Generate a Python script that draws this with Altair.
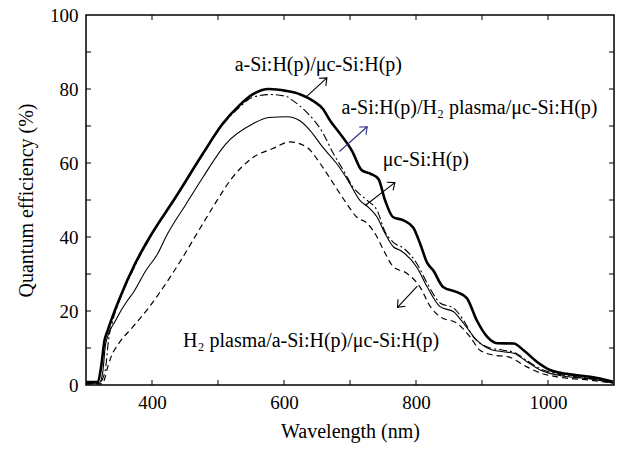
import math
import altair as alt
import pandas as pd

# ---------------- data ----------------
# a-Si:H(p)/μc-Si:H(p)  (thick solid)
wl_a = [300, 318, 323, 328, 333, 340, 350, 375, 396, 436, 477, 507, 532, 553, 577, 603, 624, 644, 659,
        670, 685, 703, 718, 731, 743, 753, 765, 781, 796, 806, 817, 826, 841, 862, 877, 892, 908, 923,
        948, 963, 983, 1004, 1029, 1064, 1099]
qe_a = [0.8, 0.8, 5, 12, 14.8, 18.4, 23, 33, 39.8, 50.8, 62.5, 70.6, 75.5, 78.6, 80, 79.5, 78.6, 76.8, 74.6,
        71.4, 67.9, 63.3, 58, 57.1, 55.7, 50, 45.4, 44.5, 42.5, 38.3, 33, 31, 26.5, 25.1, 23.5, 17.5, 13, 11.3,
        11.2, 9.4, 6.3, 4, 3, 2.2, 0.9]

# a-Si:H(p)/H2 plasma/μc-Si:H(p)  (dash-dot)
wl_b = [300, 320, 326, 330, 334, 340, 350, 375, 396, 436, 477, 507, 532, 553, 580, 603, 614, 635, 657,
        675, 690, 705, 726, 741, 753, 766, 781, 801, 817, 837, 857, 872, 887, 908, 932, 948, 968, 989,
        1014, 1064, 1099]
qe_b = [0.5, 0.5, 2, 5, 12, 17, 22.5, 32.5, 39.5, 50.6, 62.3, 70.3, 75, 77.8, 78.5, 78, 76.8, 73.6, 68.7,
        62.5, 58, 53.4, 49.9, 47.2, 41.5, 38.5, 37, 32.9, 27.5, 22.1, 20.8, 17.5, 13, 10.3, 9.4, 8.9, 6.6, 4.3,
        3, 1.8, 0.6]

# μc-Si:H(p)  (thin solid)
wl_c = [300, 320, 325, 330, 345, 363, 371, 391, 409, 421, 452, 477, 512, 553, 577, 605, 624, 640, 659,
        680, 697, 715, 728, 741, 753, 766, 776, 801, 817, 837, 857, 872, 892, 913, 932, 948, 968, 989,
        1014, 1064, 1099]
qe_c = [0.5, 0.5, 3, 11.3, 17.5, 22.9, 24.8, 31, 35.6, 40, 49, 56.1, 65.2, 70.6, 72.3, 72.5, 71.4, 68.7, 64.2,
        59.8, 55.3, 49.9, 48, 45.4, 41, 37.3, 36.4, 31.9, 26.5, 21.1, 19.8, 16.7, 12.1, 9.6, 9, 8.6, 6.3, 4,
        2.7, 1.6, 0.5]

# H2 plasma/a-Si:H(p)/μc-Si:H(p)  (dashed)
wl_d = [300, 325, 327, 333, 338, 350, 371, 396, 411, 441, 471, 492, 522, 553, 583, 609, 635, 655, 675,
        695, 710, 726, 741, 751, 766, 786, 806, 822, 837, 862, 882, 897, 917, 940, 968, 989, 1014, 1064, 1099]
qe_d = [0.3, 0.3, 1, 4.9, 7.6, 11.3, 15.7, 21.1, 24.8, 32.9, 41.8, 48, 56.1, 61.5, 63.9, 65.7, 64.2, 59.8, 54.4,
        49, 45.4, 43.7, 40, 36.4, 31.9, 30.2, 26.5, 21.1, 18.4, 16.7, 13, 9.4, 8.1, 7.6, 4.9, 3.2, 2.2, 1.3, 0.5]

# annotations
label_text = ["a-Si:H(p)/μc-Si:H(p)", "a-Si:H(p)/H₂ plasma/μc-Si:H(p)", "μc-Si:H(p)",
              "H₂ plasma/a-Si:H(p)/μc-Si:H(p)"]
label_wl = [652, 881, 815, 641]
label_qe = [84.9, 73.3, 59.3, 10.2]

arrow_wl_start = [632, 684, 723, 802]
arrow_qe_start = [77.6, 63.1, 48.5, 26.7]
arrow_wl_end = [665, 726, 768, 772]
arrow_qe_end = [83.0, 69.8, 54.7, 21.0]
arrow_color = ["black", "#2e3182", "black", "black"]

x_label_values = [400, 600, 800, 1000]
y_label_values = [0, 20, 40, 60, 80, 100]
x_tick_values = [400, 500, 600, 700, 800, 900, 1000]
y_tick_values = [10, 20, 30, 40, 50, 60, 70, 80, 90]

# ---------------- chart ----------------
W, H = 528, 370
X_DOM = [300, 1100]
Y_DOM = [0, 100]
FONT = "Liberation Serif"
FS = 20
LFS = 19

xs = alt.Scale(domain=X_DOM, nice=False, zero=False)
ys = alt.Scale(domain=Y_DOM, nice=False, zero=False)
xaxis = alt.Axis(values=x_label_values, title="Wavelength (nm)", ticks=False, tickSize=0, domain=False,
                 grid=False, labelPadding=8, titlePadding=9, format="d")
yaxis = alt.Axis(values=y_label_values, title="Quantum efficiency (%)", ticks=False, tickSize=0, domain=False,
                 grid=False, labelPadding=8, titlePadding=13, format="d")


def X(field):
    return alt.X(f"{field}:Q", scale=xs, axis=xaxis)


def Y(field):
    return alt.Y(f"{field}:Q", scale=ys, axis=yaxis)


layers = []
styles = [
    (wl_d, qe_d, 1.2, [6, 4]),
    (wl_c, qe_c, 1.1, None),
    (wl_b, qe_b, 1.1, [8, 3, 2, 3]),
    (wl_a, qe_a, 2.6, None),
]
for wl, qe, sw, dash in styles:
    df = pd.DataFrame({"wl": wl, "qe": qe})
    kw = dict(color="black", strokeWidth=sw, interpolate="monotone", clip=True)
    if dash:
        kw["strokeDash"] = dash
    layers.append(alt.Chart(df).mark_line(**kw).encode(x=X("wl"), y=Y("qe")))

# ticks (inward, all four sides)
xt = pd.DataFrame({"wl": x_tick_values})
yt = pd.DataFrame({"qe": y_tick_values})
layers.append(alt.Chart(xt).mark_rule(color="black", strokeWidth=1).encode(
    x=X("wl"), y=alt.value(H), y2=alt.value(H - 5)))
layers.append(alt.Chart(xt).mark_rule(color="black", strokeWidth=1).encode(
    x=X("wl"), y=alt.value(0), y2=alt.value(5)))
layers.append(alt.Chart(yt).mark_rule(color="black", strokeWidth=1).encode(
    y=Y("qe"), x=alt.value(0), x2=alt.value(5)))
layers.append(alt.Chart(yt).mark_rule(color="black", strokeWidth=1).encode(
    y=Y("qe"), x=alt.value(W), x2=alt.value(W - 5)))

# arrows
px_per_x = W / (X_DOM[1] - X_DOM[0])
px_per_y = H / (Y_DOM[1] - Y_DOM[0])
angles = []
for x1, y1, x2, y2 in zip(arrow_wl_start, arrow_qe_start, arrow_wl_end, arrow_qe_end):
    dx = (x2 - x1) * px_per_x
    dy = -(y2 - y1) * px_per_y
    angles.append(math.degrees(math.atan2(dx, -dy)) % 360)
adf = pd.DataFrame({"wl": arrow_wl_start, "qe": arrow_qe_start, "wl2": arrow_wl_end, "qe2": arrow_qe_end,
                    "col": arrow_color, "ang": angles})
layers.append(alt.Chart(adf).mark_rule(strokeWidth=1.1).encode(
    x=X("wl"), y=Y("qe"), x2="wl2:Q", y2="qe2:Q",
    color=alt.Color("col:N", scale=None)))
layers.append(alt.Chart(adf).mark_point(
    shape="M-0.64,0.77L0,0L0.64,0.77", filled=False, strokeWidth=1.1, size=256, opacity=1).encode(
    x=alt.X("wl2:Q", scale=xs, axis=xaxis), y=alt.Y("qe2:Q", scale=ys, axis=yaxis),
    color=alt.Color("col:N", scale=None),
    angle=alt.Angle("ang:Q", scale=None)))

# labels
ldf = pd.DataFrame({"wl": label_wl, "qe": label_qe, "t": label_text})
layers.append(alt.Chart(ldf).mark_text(font=FONT, fontSize=FS, color="black", align="center",
                                       baseline="alphabetic").encode(x=X("wl"), y=Y("qe"), text="t:N"))

chart = alt.layer(*layers).properties(
    width=W, height=H,
    padding={"left": 78, "top": 7, "right": 4, "bottom": 58},
    autosize=alt.AutoSizeParams(type="none"),
    background="white",
).configure_view(stroke="black", strokeWidth=1.5).configure_axis(
    labelFont=FONT, titleFont=FONT, labelFontSize=LFS, titleFontSize=FS, labelColor="black",
    titleColor="black", titleFontWeight="normal")

chart.save("out.html", embed_options={"renderer": "svg", "actions": False})
